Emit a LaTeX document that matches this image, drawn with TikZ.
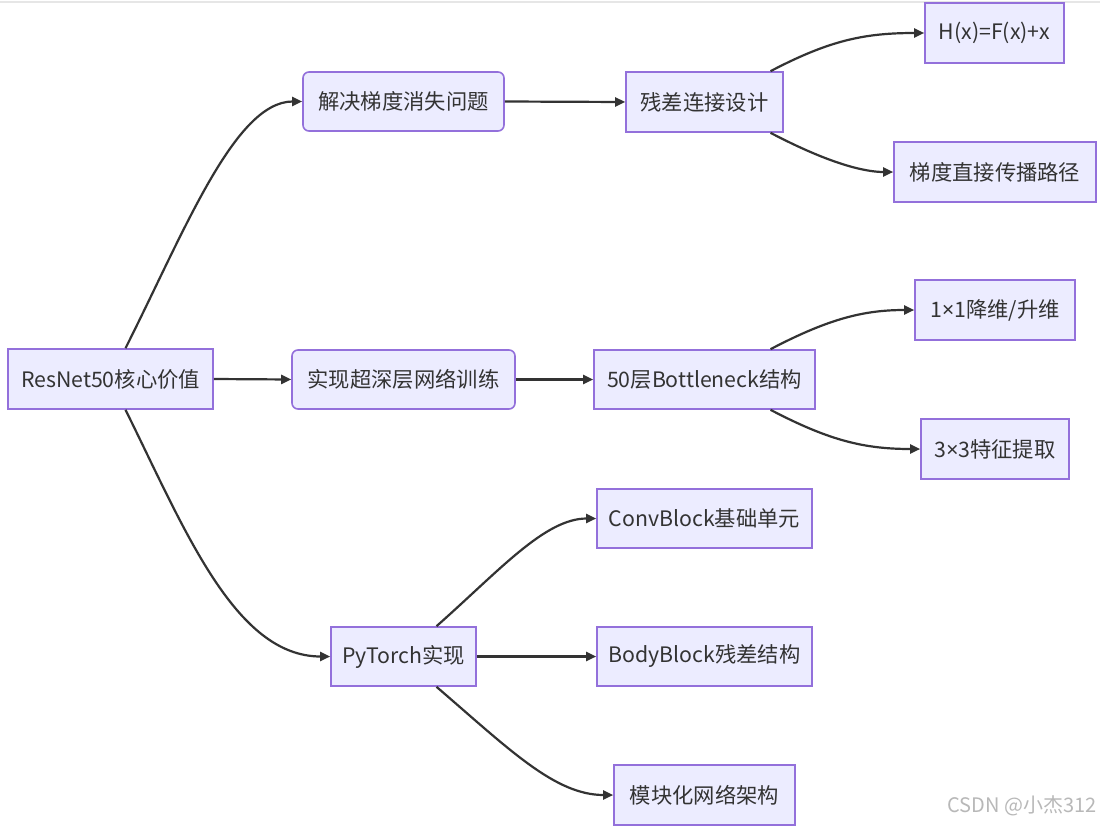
\documentclass[tikz,border=0pt]{standalone}
\usepackage{fontspec}
\setmainfont{Noto Sans CJK SC}
\newfontfamily\latfont{Noto Sans}
\usetikzlibrary{arrows.meta}
\definecolor{nodefill}{HTML}{ECECFF}
\definecolor{nodeline}{HTML}{9370DB}
\definecolor{edgecol}{HTML}{333333}
\definecolor{txtcol}{HTML}{333333}
\definecolor{wmcol}{HTML}{B8B8B8}
\definecolor{topline}{HTML}{E6E6E6}
\tikzset{
  box/.style={draw=nodeline, fill=nodefill, line width=1.6pt, inner sep=0pt,
    minimum height=60pt, text=txtcol, font=\fontsize{21.3}{25}\selectfont, anchor=center},
  roundbox/.style={box, rounded corners=6pt},
  edge/.style={draw=edgecol, line width=2.2pt, -{Triangle[length=10pt,width=9pt]}},
}
\begin{document}
\begin{tikzpicture}[x=1pt,y=-1pt]
\useasboundingbox (0,0) rectangle (1100,827);
\fill[white] (0,0) rectangle (1100,827);
\draw[topline, line width=1.5pt] (0,2) -- (1100,2);

\node[box, minimum width=205pt] (root) at (110.5,379) {ResNet50核心价值};
\node[roundbox, minimum width=201pt, minimum height=59pt] (A) at (403.5,101.5) {解决梯度消失问题};
\node[roundbox, minimum width=223pt, minimum height=59pt] (B) at (403.5,379.5) {实现超深层网络训练};
\node[box, minimum width=145pt, minimum height=59pt] (C) at (403.5,656.5) {PyTorch实现};

\node[box, minimum width=157pt] (A1) at (704.5,102) {残差连接设计};
\node[box, minimum width=139pt] (A1a) at (994.5,33) {H(x)=F(x)+x};
\node[box, minimum width=202pt] (A1b) at (995,172) {梯度直接传播路径};

\node[box, minimum width=221pt, minimum height=59pt] (B1) at (704.5,379.5) {50层Bottleneck结构};
\node[box, minimum width=160pt] (B1a) at (995,310) {1{\latfont ×}1降维/升维};
\node[box, minimum width=148pt] (B1b) at (995,449) {3{\latfont ×}3特征提取};

\node[box, minimum width=215pt, minimum height=59pt] (C1) at (704.5,518.5) {ConvBlock基础单元};
\node[box, minimum width=215pt, minimum height=59pt] (C2) at (704.5,656.5) {BodyBlock残差结构};
\node[box, minimum width=181pt] (C3) at (704.5,795) {模块化网络架构};

\node[text=wmcol, font=\fontsize{20}{24}\selectfont, anchor=east, inner sep=0pt] (wm) at (1097,806) {CSDN @小杰312};

% edges
\draw[edge] (root.north) ++(15,0) coordinate (r1) (r1) .. controls (185,230) and (235,101.5) .. (A.west);
\draw[edge] (root.east) -- (B.west);
\draw[edge] (root.south) ++(15,0) coordinate (r2) (r2) .. controls (185,530) and (235,656.5) .. (C.west);

\draw[edge] (A.east) -- (A1.west);
\draw[edge] (A1.north) ++(66,0) coordinate (a1) (a1) .. controls (830,40) and (865,33) .. (A1a.west);
\draw[edge] (A1.south) ++(66,0) coordinate (a2) (a2) .. controls (830,164) and (865,172) .. (A1b.west);

\draw[edge] (B.east) -- (B1.west);
\draw[edge] (B1.north) ++(66,0) coordinate (b1) (b1) .. controls (830,318) and (865,310) .. (B1a.west);
\draw[edge] (B1.south) ++(66,0) coordinate (b2) (b2) .. controls (830,441) and (865,449) .. (B1b.west);

\draw[edge] (C.north) ++(33,0) coordinate (c1) (c1) .. controls (500,570) and (545,518.5) .. (C1.west);
\draw[edge] (C.east) -- (C2.west);
\draw[edge] (C.south) ++(33,0) coordinate (c3) (c3) .. controls (510,750) and (555,795) .. (C3.west);
\end{tikzpicture}
\end{document}
